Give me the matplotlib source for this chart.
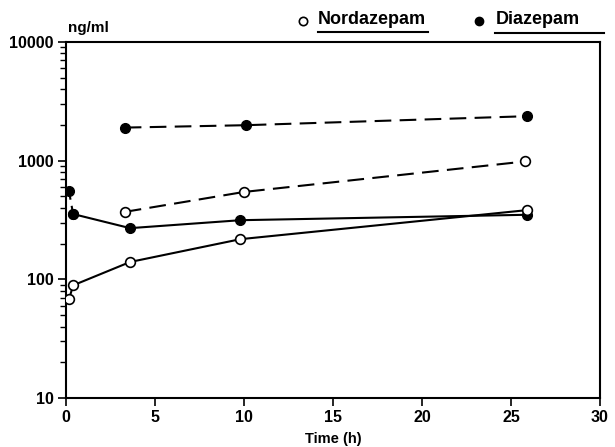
import matplotlib
matplotlib.use("Agg")
import matplotlib.pyplot as plt
from matplotlib.lines import Line2D
from matplotlib.ticker import FixedLocator, FixedFormatter, LogLocator, NullFormatter

plt.rcParams['font.family'] = ['Liberation Sans', 'DejaVu Sans']
plt.rcParams['font.weight'] = 'bold'

# Diazepam (filled)
dia_early_t = [0.17, 0.4]
dia_early_c = [550, 355]
dia_solid_t = [0.4, 3.6, 9.8, 25.9]
dia_solid_c = [355, 270, 315, 350]
dia_dash_t = [3.3, 10.1, 25.9]
dia_dash_c = [1900, 1990, 2370]
# Nordazepam (open)
nor_solid_t = [0.17, 0.4, 3.6, 9.8, 25.9]
nor_solid_c = [68, 89, 140, 218, 383]
nor_dash_t = [3.3, 10.0, 25.8]
nor_dash_c = [370, 545, 985]

x_ticks = [0, 5, 10, 15, 20, 25, 30]
y_ticks = [10, 100, 1000, 10000]

fig = plt.figure(figsize=(6.15, 4.47), dpi=100)
ax = fig.add_axes([66/615, 1-398/447, (600-66)/615, (398-42)/447])

lw = 1.5
ms = 7
ax.plot(dia_early_t, dia_early_c, color='black', lw=lw, ls=(0, (4, 3)),
        marker='o', ms=ms, mfc='black', mec='black', zorder=3)
ax.plot(dia_solid_t, dia_solid_c, color='black', lw=lw, ls='-',
        marker='o', ms=ms, mfc='black', mec='black', zorder=3)
ax.plot(dia_dash_t, dia_dash_c, color='black', lw=lw, ls=(0, (8, 4)),
        marker='o', ms=ms, mfc='black', mec='black', zorder=3)
ax.plot(nor_solid_t, nor_solid_c, color='black', lw=lw, ls='-',
        marker='o', ms=ms, mfc='white', mec='black', mew=1.2, zorder=4)
ax.plot(nor_dash_t, nor_dash_c, color='black', lw=lw, ls=(0, (8, 4)),
        marker='o', ms=ms, mfc='white', mec='black', mew=1.2, zorder=4)

ax.set_yscale('log')
ax.set_xlim(0, 30)
ax.set_ylim(10, 10000)
ax.xaxis.set_major_locator(FixedLocator(x_ticks))
ax.set_xticklabels([str(t) for t in x_ticks])
ax.yaxis.set_major_locator(FixedLocator(y_ticks))
ax.yaxis.set_major_formatter(FixedFormatter([str(t) for t in y_ticks]))
ax.yaxis.set_minor_locator(LogLocator(base=10, subs=range(2, 10)))
ax.yaxis.set_minor_formatter(NullFormatter())
ax.tick_params(axis='both', which='major', direction='out', length=6, width=1.2,
               labelsize=11.5, pad=3)
ax.tick_params(axis='y', which='minor', direction='out', length=4, width=1)
for s in ax.spines.values():
    s.set_linewidth(1.5)
ax.set_xlabel('Time (h)', fontsize=10.5, fontweight='bold', labelpad=5)

fig.text(68/615, 1-28/447, 'ng/ml', fontsize=11, fontweight='bold',
         ha='left', va='center')

# Legend
fig.add_artist(Line2D([303/615], [1-21/447], marker='o', ms=6, mfc='white',
                      mec='black', mew=1.2, ls='none', transform=fig.transFigure))
fig.text(318/615, 1-20/447, 'Nordazepam', fontsize=13, fontweight='bold',
         ha='left', va='center')
fig.add_artist(Line2D([318/615, 428/615], [1-32/447, 1-32/447], color='black',
                      lw=1.5, transform=fig.transFigure))
fig.add_artist(Line2D([479/615], [1-21/447], marker='o', ms=6, mfc='black',
                      mec='black', ls='none', transform=fig.transFigure))
fig.text(496/615, 1-20/447, 'Diazepam', fontsize=13, fontweight='bold',
         ha='left', va='center')
fig.add_artist(Line2D([495/615, 604/615], [1-33/447, 1-33/447], color='black',
                      lw=1.5, transform=fig.transFigure))

fig.savefig('out.png', dpi=100)
